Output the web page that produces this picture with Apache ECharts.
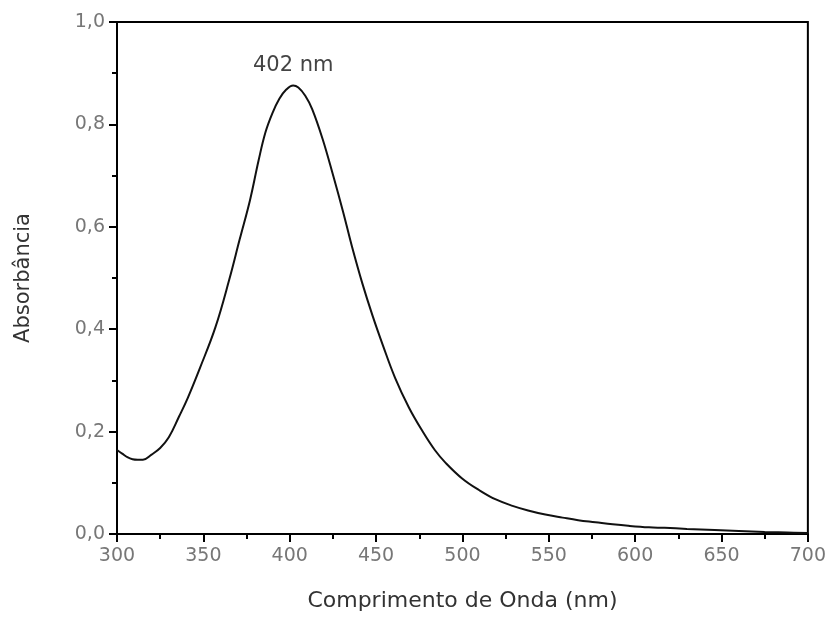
<!DOCTYPE html>
<html>
<head>
<meta charset="utf-8">
<script src="https://cdn.jsdelivr.net/npm/echarts@6/dist/echarts.min.js"></script>
<style>
  html, body { margin: 0; padding: 0; background: #fff; }
  #chart { width: 829px; height: 617px; }
</style>
</head>
<body>
<div id="chart"></div>
<script>
// comprimento de onda (nm) e absorbância
var wavelength = [300, 303, 306, 309, 312, 315, 320, 325, 330, 336, 341, 348, 357, 365, 371, 377, 382, 386, 390, 394, 398,
  402, 405, 409, 413, 419, 425, 431, 436, 442, 448, 454, 461, 469, 477, 484, 490, 500, 510, 519, 529, 538,
  548, 558, 567, 577, 587, 596, 608, 617, 630, 646, 660, 675, 688, 700]
var absorbance = [0.164, 0.157, 0.150, 0.146, 0.145, 0.145, 0.155, 0.168, 0.189, 0.230, 0.266, 0.324, 0.404, 0.497, 0.575, 0.652, 0.730, 0.785, 0.822, 0.850, 0.868,
  0.876, 0.872, 0.856, 0.830, 0.772, 0.702, 0.628, 0.562, 0.490, 0.426, 0.368, 0.305, 0.247, 0.200, 0.164, 0.140, 0.108, 0.085, 0.068, 0.055, 0.046,
  0.038, 0.032, 0.027, 0.023, 0.019, 0.016, 0.013, 0.012, 0.010, 0.008, 0.006, 0.004, 0.003, 0.002]
var peak = [402, 0.876]
var peakLabel = '402 nm'

var chart = echarts.init(document.getElementById('chart'))

var points = []
for (var i = 0; i < wavelength.length; i++) {
  points.push([wavelength[i], absorbance[i]])
}

var option = {
  backgroundColor: '#fff',
  animation: false,
  grid: {
    left: 117,
    right: 18,
    top: 22,
    bottom: 78,
    show: true,
    borderColor: '#000',
    borderWidth: 2
  },
  xAxis: {
    type: 'value',
    min: 300,
    max: 700,
    interval: 50,
    name: 'Comprimento de Onda (nm)',
    nameLocation: 'middle',
    nameGap: 56,
    nameTextStyle: { fontFamily: 'DejaVu Sans', fontSize: 22, color: '#333' },
    axisLine: { show: true, lineStyle: { color: '#000', width: 2 } },
    axisTick: { show: true, inside: false, length: 8, lineStyle: { color: '#000', width: 2 } },
    minorTick: { show: true, splitNumber: 2, length: 5, lineStyle: { color: '#000', width: 2 } },
    axisLabel: { fontFamily: 'DejaVu Sans', fontSize: 19, color: '#777', margin: 13 },
    splitLine: { show: false }
  },
  yAxis: {
    type: 'value',
    min: 0,
    max: 1,
    interval: 0.2,
    name: 'Absorbância',
    nameLocation: 'middle',
    nameGap: 83,
    nameTextStyle: { fontFamily: 'DejaVu Sans', fontSize: 21, color: '#333' },
    axisLine: { show: true, lineStyle: { color: '#000', width: 2 } },
    axisTick: { show: true, inside: false, length: 8, lineStyle: { color: '#000', width: 2 } },
    minorTick: { show: true, splitNumber: 2, length: 5, lineStyle: { color: '#000', width: 2 } },
    axisLabel: {
      fontFamily: 'DejaVu Sans',
      fontSize: 19,
      color: '#777',
      margin: 12,
      formatter: function (v) { return v.toFixed(1).replace('.', ',') }
    },
    splitLine: { show: false }
  },
  series: [
    {
      type: 'line',
      data: points,
      smooth: 0.4,
      showSymbol: false,
      lineStyle: { color: '#111', width: 2 },
      markPoint: {
        symbol: 'circle',
        symbolSize: 0,
        silent: true,
        label: {
          show: true,
          position: 'top',
          distance: 9,
          formatter: peakLabel,
          fontFamily: 'DejaVu Sans',
          fontSize: 21,
          color: '#444'
        },
        data: [{ coord: peak }]
      }
    }
  ]
}

chart.setOption(option)
</script>
</body>
</html>
